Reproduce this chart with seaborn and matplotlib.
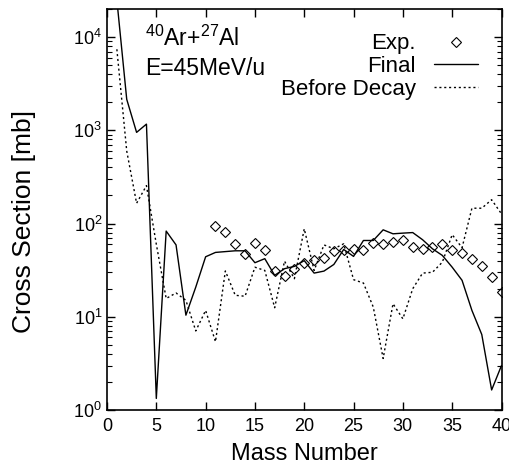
import matplotlib
matplotlib.use("Agg")
import matplotlib.pyplot as plt
import seaborn as sns
import pandas as pd
from matplotlib.lines import Line2D

sns.set_theme(style="ticks")
plt.rcParams['font.family'] = ['Liberation Sans', 'DejaVu Sans']
plt.rcParams['mathtext.fontset'] = 'custom'
plt.rcParams['mathtext.rm'] = 'Liberation Sans'
plt.rcParams['mathtext.it'] = 'Liberation Sans:italic'
plt.rcParams['mathtext.bf'] = 'Liberation Sans:bold'
plt.rcParams['text.color'] = 'black'
plt.rcParams['axes.labelcolor'] = 'black'
plt.rcParams['xtick.color'] = 'black'
plt.rcParams['ytick.color'] = 'black'

mass_calc = list(range(1, 41))
final = [25000, 2150, 950, 1165, 1.33, 83, 59, 10.4, 20.8, 44,
         49, 50, 51, 51, 38, 42, 27.8, 32.8, 34.7, 40,
         29.4, 30.9, 36.4, 52.7, 44.4, 65.8, 65.8, 85.6, 77.6, 78.9,
         80, 67, 53.6, 45.5, 34, 24.6, 11.7, 6.45, 1.64, 3.0]
before_decay = [7400, 600, 165, 255, 60, 15.7, 18, 15, 7.05, 11.7,
                5.4, 31, 17, 16.6, 34, 31.4, 12.5, 39.5, 25.6, 87.8,
                31.4, 59, 53.6, 60.6, 25, 23, 12.7, 3.57, 13.8, 9.5,
                20, 29.4, 30, 38.5, 76, 55, 146, 146, 180, 127]
mass_exp = list(range(11, 41))
exp_vals = [95, 82, 60.7, 47.4, 61.6, 52.3, 30.9, 27.1, 32.8, 37.6,
            40.2, 43, 50.2, 51.4, 53.6, 52.5, 61.6, 60.7, 63, 65.8,
            55.8, 53, 55.8, 59.6, 52.3, 48.2, 41.9, 34.7, 26.7, 18.4]

df_calc = pd.DataFrame({"A": mass_calc, "final": final, "before": before_decay})
df_exp = pd.DataFrame({"A": mass_exp, "exp": exp_vals})

fig = plt.figure(figsize=(5.1, 4.7), dpi=100)
ax = fig.add_axes([107/510, 60/470, 394.5/510, 401/470])

sns.lineplot(data=df_calc, x="A", y="final", ax=ax, color="black", lw=1.0)
sns.lineplot(data=df_calc, x="A", y="before", ax=ax, color="black", lw=1.0,
             linestyle=(0, (1.5, 2.0)))
ax.plot(df_exp["A"], df_exp["exp"], linestyle="none", marker="D", markersize=5,
        markerfacecolor="none", markeredgecolor="black", markeredgewidth=0.8)

ax.set_yscale("log")
ax.set_xlim(0, 40)
ax.set_ylim(1, 2e4)
ax.set_xticks(range(0, 41, 5))
ax.set_xlabel("Mass Number", fontsize=17)
ax.set_ylabel("Cross Section [mb]", fontsize=19)
ax.xaxis.set_label_coords(0.5, -0.083)
ax.yaxis.set_label_coords(-0.18, 0.47)
ax.tick_params(axis="both", which="both", direction="in", top=True, right=True,
               labelsize=13, color="black", labelcolor="black")
ax.tick_params(which="major", length=6, width=1)
ax.tick_params(which="minor", length=3.5, width=0.8)
ax.tick_params(axis="x", pad=6)
for s in ax.spines.values():
    s.set_linewidth(1.2)
    s.set_color("black")

ax.text(0.096, 0.908, r"$^{40}$Ar+$^{27}$Al", transform=ax.transAxes,
        fontsize=16.5, va="baseline", ha="left", color="black")
ax.text(0.096, 0.835, "E=45MeV/u", transform=ax.transAxes,
        fontsize=16.5, va="baseline", ha="left", color="black")

handles = [
    Line2D([], [], linestyle="none", marker="D", markersize=5,
           markerfacecolor="none", markeredgecolor="black", markeredgewidth=0.8),
    Line2D([], [], color="black", lw=1.0),
    Line2D([], [], color="black", lw=1.0, linestyle=(0, (1.5, 2.0))),
]
leg = ax.legend(handles, ["Exp.", "Final", "Before Decay"], loc="upper right",
                bbox_to_anchor=(0.952, 0.95), frameon=False, markerfirst=False,
                fontsize=16, labelspacing=0.08, handlelength=2.0, handletextpad=0.8,
                borderaxespad=0, borderpad=0.2)
for t in leg.get_texts():
    t.set_color("black")

fig.savefig("out.png", dpi=100)
